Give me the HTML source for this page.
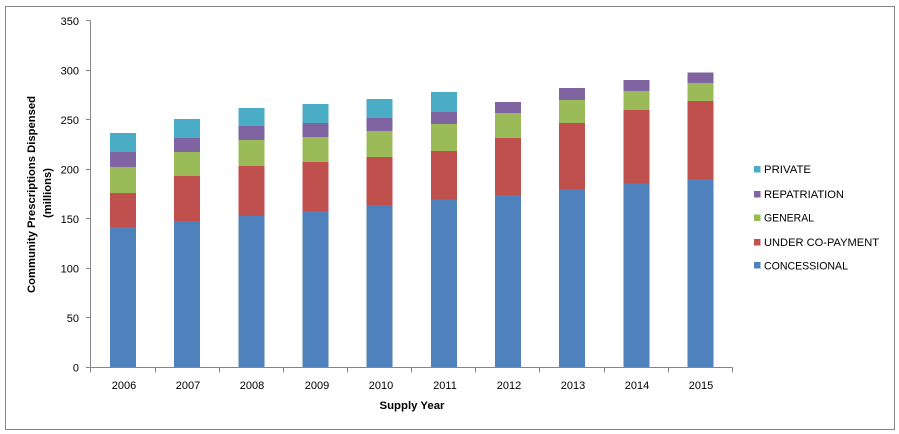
<!DOCTYPE html>
<html><head><meta charset="utf-8"><style>
html,body{margin:0;padding:0;background:#fff;}
svg{display:block;}
text{font-family:"Liberation Sans",Arial,sans-serif;fill:#000;}
</style></head><body>
<svg width="899" height="434" viewBox="0 0 899 434" xmlns="http://www.w3.org/2000/svg">
<rect x="0" y="0" width="899" height="434" fill="#fff"/>
<rect x="5.5" y="6.5" width="889" height="423" fill="none" stroke="#868686" stroke-width="1"/>

<!-- bars -->
<g shape-rendering="crispEdges">
<!-- 2006 -->
<rect x="110" y="133" width="26" height="19" fill="#4BACC6"/>
<rect x="110" y="152" width="26" height="15" fill="#8064A2"/>
<rect x="110" y="167" width="26" height="26" fill="#9BBB59"/>
<rect x="110" y="193" width="26" height="34" fill="#C0504D"/>
<rect x="110" y="227" width="26" height="140.5" fill="#4F81BD"/>
<!-- 2007 -->
<rect x="174.2" y="119" width="26" height="19" fill="#4BACC6"/>
<rect x="174.2" y="138" width="26" height="14" fill="#8064A2"/>
<rect x="174.2" y="152" width="26" height="24" fill="#9BBB59"/>
<rect x="174.2" y="176" width="26" height="45" fill="#C0504D"/>
<rect x="174.2" y="221" width="26" height="146.5" fill="#4F81BD"/>
<!-- 2008 -->
<rect x="238.3" y="108" width="26" height="18" fill="#4BACC6"/>
<rect x="238.3" y="126" width="26" height="14" fill="#8064A2"/>
<rect x="238.3" y="140" width="26" height="26" fill="#9BBB59"/>
<rect x="238.3" y="166" width="26" height="50" fill="#C0504D"/>
<rect x="238.3" y="216" width="26" height="151.5" fill="#4F81BD"/>
<!-- 2009 -->
<rect x="302.5" y="104" width="26" height="19" fill="#4BACC6"/>
<rect x="302.5" y="123" width="26" height="14" fill="#8064A2"/>
<rect x="302.5" y="137" width="26" height="25" fill="#9BBB59"/>
<rect x="302.5" y="162" width="26" height="49" fill="#C0504D"/>
<rect x="302.5" y="211" width="26" height="156.5" fill="#4F81BD"/>
<!-- 2010 -->
<rect x="366.6" y="99" width="26" height="19" fill="#4BACC6"/>
<rect x="366.6" y="118" width="26" height="13" fill="#8064A2"/>
<rect x="366.6" y="131" width="26" height="26" fill="#9BBB59"/>
<rect x="366.6" y="157" width="26" height="48" fill="#C0504D"/>
<rect x="366.6" y="205" width="26" height="162.5" fill="#4F81BD"/>
<!-- 2011 -->
<rect x="430.8" y="92" width="26" height="20" fill="#4BACC6"/>
<rect x="430.8" y="112" width="26" height="12" fill="#8064A2"/>
<rect x="430.8" y="124" width="26" height="27" fill="#9BBB59"/>
<rect x="430.8" y="151" width="26" height="48.7" fill="#C0504D"/>
<rect x="430.8" y="199.7" width="26" height="167.8" fill="#4F81BD"/>
<!-- 2012 -->
<rect x="495" y="102" width="26" height="11" fill="#8064A2"/>
<rect x="495" y="113" width="26" height="25" fill="#9BBB59"/>
<rect x="495" y="138" width="26" height="57" fill="#C0504D"/>
<rect x="495" y="195" width="26" height="172.5" fill="#4F81BD"/>
<!-- 2013 -->
<rect x="559.1" y="88" width="26" height="12" fill="#8064A2"/>
<rect x="559.1" y="100" width="26" height="23" fill="#9BBB59"/>
<rect x="559.1" y="123" width="26" height="66.7" fill="#C0504D"/>
<rect x="559.1" y="189.7" width="26" height="177.8" fill="#4F81BD"/>
<!-- 2014 -->
<rect x="623.3" y="80" width="26" height="11" fill="#8064A2"/>
<rect x="623.3" y="91" width="26" height="19" fill="#9BBB59"/>
<rect x="623.3" y="110" width="26" height="73.7" fill="#C0504D"/>
<rect x="623.3" y="183.7" width="26" height="183.8" fill="#4F81BD"/>
<!-- 2015 -->
<rect x="687.4" y="72.7" width="26" height="10.3" fill="#8064A2"/>
<rect x="687.4" y="83" width="26" height="18" fill="#9BBB59"/>
<rect x="687.4" y="101" width="26" height="78.7" fill="#C0504D"/>
<rect x="687.4" y="179.7" width="26" height="187.8" fill="#4F81BD"/>
</g>

<!-- axes -->
<g stroke="#868686" stroke-width="1" fill="none" shape-rendering="crispEdges">
<line x1="90.5" y1="20.5" x2="90.5" y2="367.5"/>
<line x1="90.5" y1="367.5" x2="732.5" y2="367.5"/>
<line x1="86" y1="20.5" x2="90.5" y2="20.5"/>
<line x1="86" y1="70.5" x2="90.5" y2="70.5"/>
<line x1="86" y1="119.5" x2="90.5" y2="119.5"/>
<line x1="86" y1="169.5" x2="90.5" y2="169.5"/>
<line x1="86" y1="218.5" x2="90.5" y2="218.5"/>
<line x1="86" y1="268.5" x2="90.5" y2="268.5"/>
<line x1="86" y1="317.5" x2="90.5" y2="317.5"/>
<line x1="86" y1="367.5" x2="90.5" y2="367.5"/>
<line x1="90.5" y1="367.5" x2="90.5" y2="372.5"/>
<line x1="155.5" y1="367.5" x2="155.5" y2="372.5"/>
<line x1="219.5" y1="367.5" x2="219.5" y2="372.5"/>
<line x1="283.5" y1="367.5" x2="283.5" y2="372.5"/>
<line x1="347.5" y1="367.5" x2="347.5" y2="372.5"/>
<line x1="411.5" y1="367.5" x2="411.5" y2="372.5"/>
<line x1="475.5" y1="367.5" x2="475.5" y2="372.5"/>
<line x1="539.5" y1="367.5" x2="539.5" y2="372.5"/>
<line x1="604.5" y1="367.5" x2="604.5" y2="372.5"/>
<line x1="668.5" y1="367.5" x2="668.5" y2="372.5"/>
<line x1="732.5" y1="367.5" x2="732.5" y2="372.5"/>
</g>

<!-- y labels -->
<g font-size="11" text-anchor="end">
<text x="79" y="25">350</text>
<text x="79" y="74.5">300</text>
<text x="79" y="124">250</text>
<text x="79" y="173.5">200</text>
<text x="79" y="223">150</text>
<text x="79" y="272.5">100</text>
<text x="79" y="322">50</text>
<text x="79" y="371.5">0</text>
</g>

<!-- x labels -->
<g font-size="11" text-anchor="middle">
<text x="124" y="389">2006</text>
<text x="188" y="389">2007</text>
<text x="252" y="389">2008</text>
<text x="317" y="389">2009</text>
<text x="381" y="389">2010</text>
<text x="445" y="389">2011</text>
<text x="509" y="389">2012</text>
<text x="573" y="389">2013</text>
<text x="637" y="389">2014</text>
<text x="701" y="389">2015</text>
</g>

<!-- axis titles -->
<text x="412" y="409" font-size="11" font-weight="bold" text-anchor="middle" textLength="65" lengthAdjust="spacingAndGlyphs">Supply Year</text>
<g transform="translate(35,194.5) rotate(-90)">
<text x="0" y="0" font-size="11" font-weight="bold" text-anchor="middle" textLength="197" lengthAdjust="spacingAndGlyphs">Community Prescriptions  Dispensed</text>
</g>
<g transform="translate(51,193) rotate(-90)">
<text x="0" y="0" font-size="11" font-weight="bold" text-anchor="middle" textLength="50" lengthAdjust="spacingAndGlyphs">(millions)</text>
</g>

<!-- legend -->
<g shape-rendering="crispEdges">
<rect x="754" y="166" width="6.5" height="6.5" fill="#4BACC6"/>
<rect x="754" y="191" width="6.5" height="6.5" fill="#8064A2"/>
<rect x="754" y="214.5" width="6.5" height="6.5" fill="#9BBB59"/>
<rect x="754" y="239" width="6.5" height="6.5" fill="#C0504D"/>
<rect x="754" y="262" width="6.5" height="6.5" fill="#4F81BD"/>
</g>
<g font-size="11">
<text x="764" y="173" textLength="47" lengthAdjust="spacingAndGlyphs">PRIVATE</text>
<text x="764" y="198" textLength="80" lengthAdjust="spacingAndGlyphs">REPATRIATION</text>
<text x="764" y="221.5" textLength="50" lengthAdjust="spacingAndGlyphs">GENERAL</text>
<text x="764" y="246" textLength="115" lengthAdjust="spacingAndGlyphs">UNDER CO-PAYMENT</text>
<text x="764" y="269.5" textLength="84" lengthAdjust="spacingAndGlyphs">CONCESSIONAL</text>
</g>
</svg>
</body></html>
